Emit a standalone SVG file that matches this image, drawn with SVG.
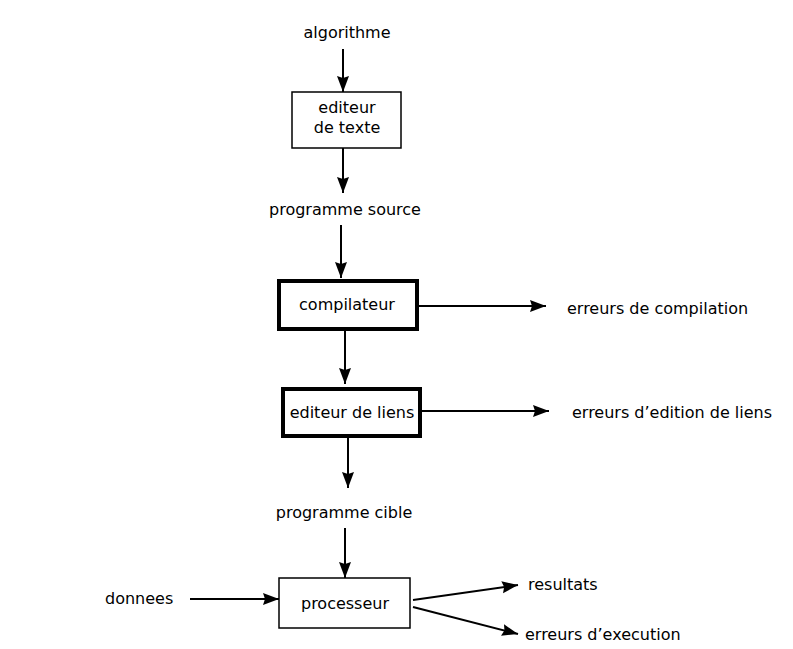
<svg xmlns="http://www.w3.org/2000/svg" width="793" height="649" viewBox="0 0 793 649">
<style>
text{font-family:"DejaVu Sans","Liberation Sans",sans-serif;font-size:16px;fill:#000}
.c{text-anchor:middle}
.box{fill:#fff;stroke:#000;stroke-width:1.5}
.thick{fill:#fff;stroke:#000;stroke-width:4}
.edge{stroke:#000;stroke-width:2;fill:none;marker-end:url(#ah)}
</style>
<defs>
<marker id="ah" markerUnits="userSpaceOnUse" markerWidth="18" markerHeight="14" refX="16" refY="6" orient="auto">
<path d="M0,0 L2,6 L0,12 L16,6 z" fill="#000"/>
</marker>
</defs>
<rect width="793" height="649" fill="#fff"/>
<g id="edges">
<line class="edge" x1="343" y1="49" x2="343" y2="92"/>
<line class="edge" x1="343" y1="148" x2="343" y2="193"/>
<line class="edge" x1="341" y1="225" x2="341" y2="278"/>
<line class="edge" x1="419" y1="306" x2="546" y2="306"/>
<line class="edge" x1="345" y1="331" x2="345" y2="384"/>
<line class="edge" x1="422" y1="411" x2="549" y2="411"/>
<line class="edge" x1="348" y1="438" x2="348" y2="488"/>
<line class="edge" x1="345" y1="528" x2="345" y2="578"/>
<line class="edge" x1="190" y1="599" x2="279" y2="599"/>
<line class="edge" x1="413" y1="600" x2="518" y2="585"/>
<line class="edge" x1="413" y1="607" x2="518" y2="634"/>
</g>
<g id="algorithme"><text class="c" x="347" y="38">algorithme</text></g>
<g id="editeur-texte">
<rect class="box" x="292" y="92" width="109" height="56"/>
<text class="c" x="347" y="113">editeur</text>
<text class="c" x="347" y="133">de texte</text>
</g>
<g id="programme-source"><text class="c" x="345" y="215">programme source</text></g>
<g id="compilateur">
<rect class="thick" x="279" y="281" width="138" height="48"/>
<text class="c" x="347" y="310">compilateur</text>
</g>
<g id="erreurs-compilation"><text x="567" y="314">erreurs de compilation</text></g>
<g id="editeur-liens">
<rect class="thick" x="283" y="389" width="137" height="47"/>
<text class="c" x="352" y="418">editeur de liens</text>
</g>
<g id="erreurs-edition"><text x="572" y="418">erreurs d’edition de liens</text></g>
<g id="programme-cible"><text class="c" x="344" y="518">programme cible</text></g>
<g id="donnees"><text x="105" y="604">donnees</text></g>
<g id="processeur">
<rect class="box" x="279" y="578" width="131" height="50"/>
<text class="c" x="345" y="609">processeur</text>
</g>
<g id="resultats"><text x="528" y="590">resultats</text></g>
<g id="erreurs-execution"><text x="525" y="640">erreurs d’execution</text></g>
</svg>
